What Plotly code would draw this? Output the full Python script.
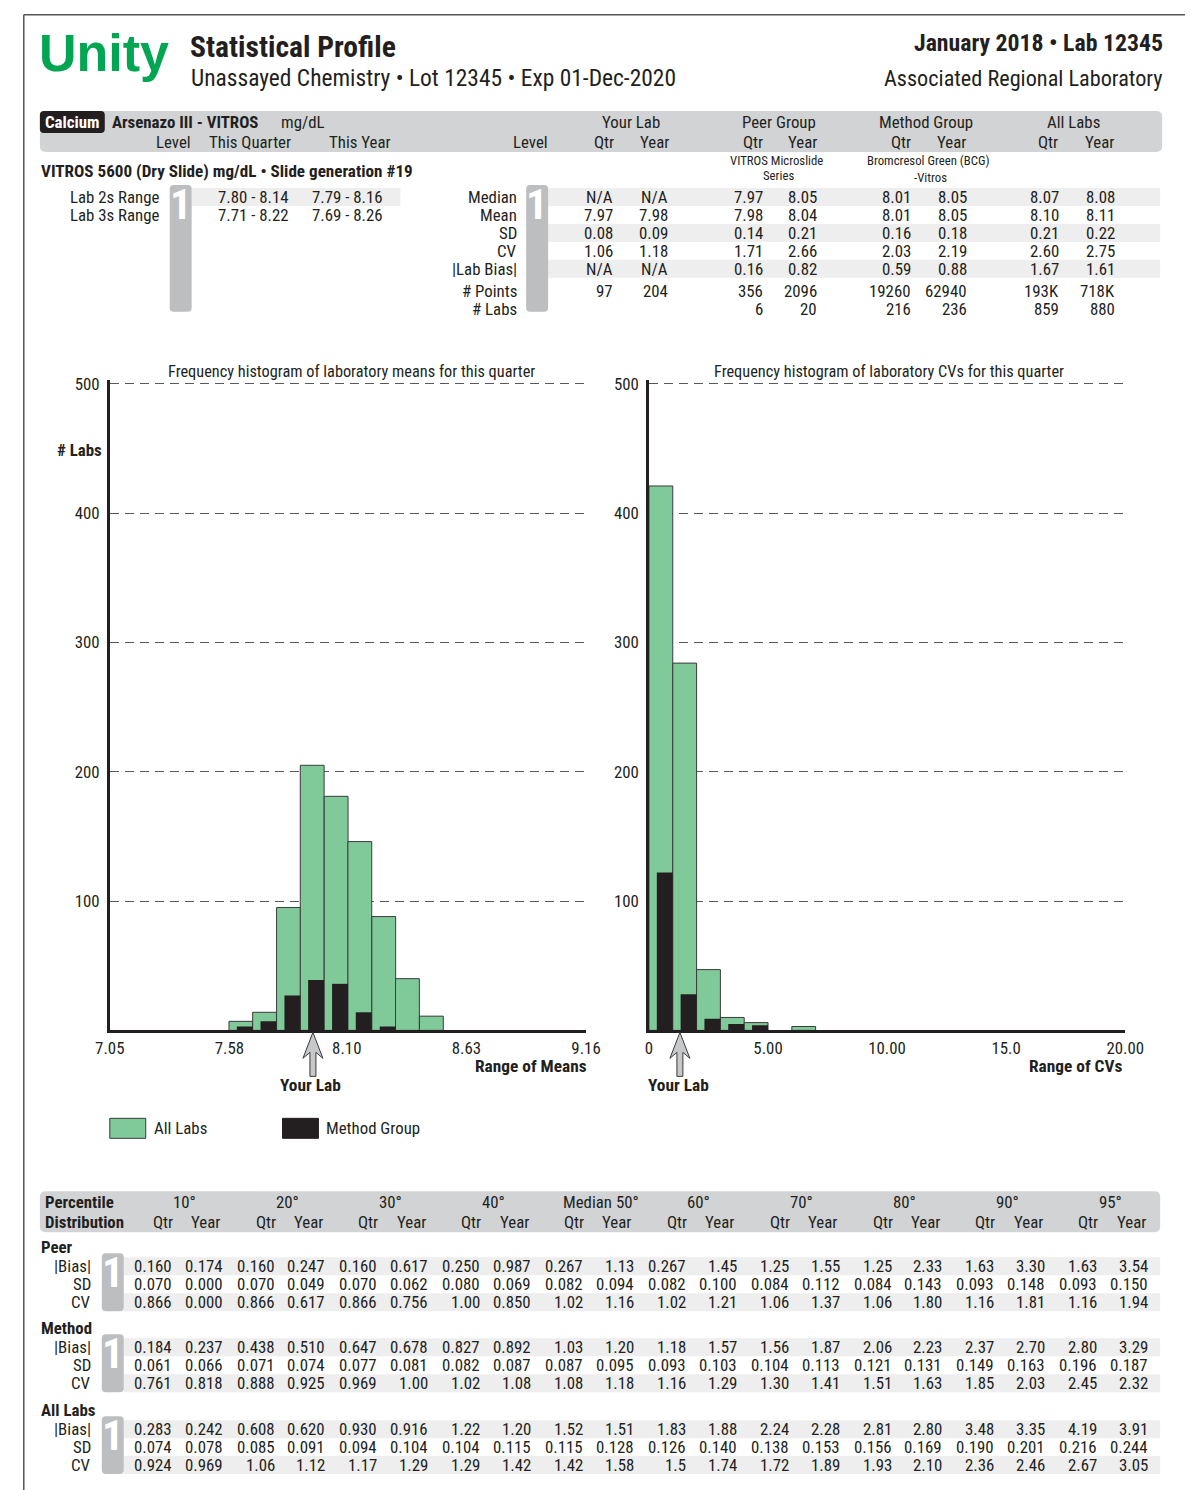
import plotly.graph_objects as go

# Positions below are pixels of the 1193x1490 reference picture.  The photographed page
# comes out slightly shrunk and shifted, so they are mapped back to page pixels first;
# the page body also keeps its default 8px margin.
W, H = 1193, 1490
OFF = 8
SX, OX = 0.973, 13.3
SY, OY = 0.9966, 5.0
FSCALE = 1.02
FONT = "Roboto Condensed, Liberation Sans Narrow, Roboto, sans-serif"
LOGO_FONT = "Liberation Sans, Arial, sans-serif"
INK = "#231f20"
GREEN = "#00a651"
BAR_GREEN = "#80ca9a"
BAND = "#d1d3d4"
ROWBAND = "#eeeeef"
BOX = "#bcbec0"
FS = 16.5

# ---------------- data ----------------
mean_bin_start = [7.578, 7.683, 7.789, 7.894, 8.000, 8.105, 8.211, 8.316, 8.422]
mean_bin_width = 0.1055
mean_all_labs = [7, 14, 95, 205, 181, 146, 88, 40, 11]
mean_method = [3, 7, 27, 39, 36, 14, 3, 0, 0]

cv_bin_start = [0, 1, 2, 3, 4, 6]
cv_bin_width = 1.0
cv_all_labs = [421, 284, 47, 10, 6, 3]
cv_method = [122, 28, 9, 5, 4, 0]

mean_ticks = [7.05, 7.58, 8.10, 8.63, 9.16]
mean_ticktext = ["7.05", "7.58", "8.10", "8.63", "9.16"]
cv_ticks = [0, 5, 10, 15, 20]
cv_ticktext = ["0", "5.00", "10.00", "15.0", "20.00"]
count_ticks = [100, 200, 300, 400, 500]
count_ticktext = ["100", "200", "300", "400", "500"]
your_lab_mean_marker = 7.95
your_lab_cv_marker = 1.30

range_labels = ["Lab 2s Range", "Lab 3s Range"]
range_qtr = ["7.80 - 8.14", "7.71 - 8.22"]
range_year = ["7.79 - 8.16", "7.69 - 8.26"]

stat_labels = ["Median", "Mean", "SD", "CV", "|Lab Bias|", "# Points", "# Labs"]
your_lab_qtr = ["N/A", "7.97", "0.08", "1.06", "N/A", "97", ""]
your_lab_year = ["N/A", "7.98", "0.09", "1.18", "N/A", "204", ""]
peer_qtr = ["7.97", "7.98", "0.14", "1.71", "0.16", "356", "6"]
peer_year = ["8.05", "8.04", "0.21", "2.66", "0.82", "2096", "20"]
method_qtr = ["8.01", "8.01", "0.16", "2.03", "0.59", "19260", "216"]
method_year = ["8.05", "8.05", "0.18", "2.19", "0.88", "62940", "236"]
all_qtr = ["8.07", "8.10", "0.21", "2.60", "1.67", "193K", "859"]
all_year = ["8.08", "8.11", "0.22", "2.75", "1.61", "718K", "880"]

pct_headers = ["10°", "20°", "30°", "40°", "Median 50°", "60°", "70°", "80°", "90°", "95°"]
pct_row_labels = ["|Bias|", "SD", "CV"]
pct_groups = ["Peer", "Method", "All Labs"]
peer_bias = ["0.160", "0.174", "0.160", "0.247", "0.160", "0.617", "0.250", "0.987", "0.267", "1.13",
             "0.267", "1.45", "1.25", "1.55", "1.25", "2.33", "1.63", "3.30", "1.63", "3.54"]
peer_sd = ["0.070", "0.000", "0.070", "0.049", "0.070", "0.062", "0.080", "0.069", "0.082", "0.094",
           "0.082", "0.100", "0.084", "0.112", "0.084", "0.143", "0.093", "0.148", "0.093", "0.150"]
peer_cv = ["0.866", "0.000", "0.866", "0.617", "0.866", "0.756", "1.00", "0.850", "1.02", "1.16",
           "1.02", "1.21", "1.06", "1.37", "1.06", "1.80", "1.16", "1.81", "1.16", "1.94"]
method_bias = ["0.184", "0.237", "0.438", "0.510", "0.647", "0.678", "0.827", "0.892", "1.03", "1.20",
               "1.18", "1.57", "1.56", "1.87", "2.06", "2.23", "2.37", "2.70", "2.80", "3.29"]
method_sd = ["0.061", "0.066", "0.071", "0.074", "0.077", "0.081", "0.082", "0.087", "0.087", "0.095",
             "0.093", "0.103", "0.104", "0.113", "0.121", "0.131", "0.149", "0.163", "0.196", "0.187"]
method_cv = ["0.761", "0.818", "0.888", "0.925", "0.969", "1.00", "1.02", "1.08", "1.08", "1.18",
             "1.16", "1.29", "1.30", "1.41", "1.51", "1.63", "1.85", "2.03", "2.45", "2.32"]
all_bias = ["0.283", "0.242", "0.608", "0.620", "0.930", "0.916", "1.22", "1.20", "1.52", "1.51",
            "1.83", "1.88", "2.24", "2.28", "2.81", "2.80", "3.48", "3.35", "4.19", "3.91"]
all_sd = ["0.074", "0.078", "0.085", "0.091", "0.094", "0.104", "0.104", "0.115", "0.115", "0.128",
          "0.126", "0.140", "0.138", "0.153", "0.156", "0.169", "0.190", "0.201", "0.216", "0.244"]
all_cv = ["0.924", "0.969", "1.06", "1.12", "1.17", "1.29", "1.29", "1.42", "1.42", "1.58",
          "1.5", "1.74", "1.72", "1.89", "1.93", "2.10", "2.36", "2.46", "2.67", "3.05"]

# ---------------- helpers (reference pixel -> paper) ----------------
def X(px):
    return ((px - OX) / SX - OFF) / W


def Y(py):
    return 1 - ((py - OY) / SY - OFF) / H


annotations = []
shapes = []


def text(t, x, y, size=FS, anchor="left", bold=False, color=INK, family=FONT):
    annotations.append(dict(
        text=("<b>%s</b>" % t) if bold else t, x=X(x), y=Y(y), xref="paper", yref="paper",
        xanchor=anchor, yanchor="middle", showarrow=False,
        font=dict(family=family, size=round(size * FSCALE, 2), color=color), borderpad=0))


def rrect(x0, y0, x1, y1, r, fill, layer="below"):
    def P(x, y):
        return "%.5f,%.5f" % (X(x), Y(y))
    path = ("M %s L %s Q %s %s L %s Q %s %s L %s Q %s %s L %s Q %s %s Z" % (
        P(x0 + r, y0), P(x1 - r, y0), P(x1, y0), P(x1, y0 + r), P(x1, y1 - r), P(x1, y1),
        P(x1 - r, y1), P(x0 + r, y1), P(x0, y1), P(x0, y1 - r), P(x0, y0 + r), P(x0, y0),
        P(x0 + r, y0)))
    shapes.append(dict(type="path", path=path, xref="paper", yref="paper", fillcolor=fill,
                       line=dict(color=fill, width=0), layer=layer))


def rect(x0, y0, x1, y1, fill, line_color=None, line_width=0, layer="below"):
    shapes.append(dict(type="rect", x0=X(x0), x1=X(x1), y0=Y(y1), y1=Y(y0), xref="paper",
                       yref="paper", fillcolor=fill,
                       line=dict(color=line_color or fill, width=line_width), layer=layer))


def level_box(x0, y0, x1, y1, size=42):
    rrect(x0, y0, x1, y1, 4, BOX)
    text("1", (x0 + x1) / 2, y0 + 19, size=size, anchor="center", bold=True, color="white")


# ---------------- page frame ----------------
fx = max(X(9), 0.8 / W)
fy = min(Y(10), 1 - 0.8 / H)
shapes.append(dict(type="line", x0=fx, x1=X(1200), y0=fy, y1=fy, xref="paper", yref="paper",
                   line=dict(color="#555555", width=1.5)))
shapes.append(dict(type="line", x0=fx, x1=fx, y0=fy, y1=Y(1500), xref="paper", yref="paper",
                   line=dict(color="#555555", width=1.5)))

# ---------------- header ----------------
text("Unity", 36, 52, size=51, bold=True, color=GREEN, family=LOGO_FONT)
text("Statistical Profile", 187, 46, size=29, bold=True)
text("Unassayed Chemistry • Lot 12345 • Exp 01-Dec-2020", 188, 77, size=23)
text("January 2018 • Lab 12345", 1164, 42, size=23.3, anchor="right", bold=True)
text("Associated Regional Laboratory", 1164, 77, size=21.8, anchor="right")

# ---------------- top statistics table ----------------
rrect(38, 110, 1162, 151, 6, BAND)
rrect(38, 110, 103, 132, 4, INK)
text("Calcium", 70.5, 121, anchor="center", bold=True, color="white")
text("Arsenazo III - VITROS", 109, 121, bold=True)
text("mg/dL", 278, 121)
for t, x in [("Your Lab", 630), ("Peer Group", 778), ("Method Group", 925), ("All Labs", 1073)]:
    text(t, x, 121, anchor="center")
text("Level", 190, 141, anchor="right")
text("This Quarter", 248, 141, anchor="center")
text("This Year", 359, 141, anchor="center")
text("Level", 529, 141, anchor="center")
for q, yv in [(603, 654), (752, 802), (900, 951), (1048, 1099)]:
    text("Qtr", q, 141, anchor="center")
    text("Year", yv, 141, anchor="center")

text("VITROS 5600 (Dry Slide) mg/dL • Slide generation #19", 38, 170, size=16.8, bold=True)
text("VITROS Microslide", 776, 160, size=12.5, anchor="center")
text("Series", 778, 175, size=12.5, anchor="center")
text("Bromcresol Green (BCG)", 928, 160, size=12.5, anchor="center")
text("-Vitros", 930, 177, size=12.5, anchor="center")

# left block (lab ranges)
rect(190, 187, 399, 205, ROWBAND)
level_box(168, 184, 190, 311)
for i, lab in enumerate(range_labels):
    yy = 196 + 18 * i
    text(lab, 159, yy, anchor="right")
    text(range_qtr[i], 252, yy, anchor="center")
    text(range_year[i], 346, yy, anchor="center")

# right block (summary statistics)
stat_rows_y = [196, 214, 232, 250, 268, 290, 308]
for by in (187, 223, 259):
    rect(547, by, 1160, by + 18, ROWBAND)
level_box(525, 184, 547, 311)
stat_cols = [your_lab_qtr, your_lab_year, peer_qtr, peer_year, method_qtr, method_year, all_qtr, all_year]
stat_col_right = [613, 668, 763, 817, 911, 968, 1060, 1116]
for i, lab in enumerate(stat_labels):
    text(lab, 517, stat_rows_y[i], anchor="right")
    for col, xr in zip(stat_cols, stat_col_right):
        if col[i]:
            text(col[i], xr, stat_rows_y[i], anchor="right")

# ---------------- histograms ----------------
fig = go.Figure()
fig.add_trace(go.Bar(x=mean_bin_start, y=mean_all_labs, width=[mean_bin_width] * len(mean_bin_start),
                     offset=0, marker=dict(color=BAR_GREEN, line=dict(color="#3a3a3a", width=1)),
                     xaxis="x", yaxis="y", name="All Labs"))
fig.add_trace(go.Bar(x=mean_bin_start, y=mean_method, width=[mean_bin_width * 0.67] * len(mean_bin_start),
                     offset=mean_bin_width * 0.33, marker=dict(color=INK, line=dict(width=0)),
                     xaxis="x", yaxis="y", name="Method Group"))
fig.add_trace(go.Bar(x=cv_bin_start, y=cv_all_labs, width=[cv_bin_width] * len(cv_bin_start),
                     offset=0, marker=dict(color=BAR_GREEN, line=dict(color="#3a3a3a", width=1)),
                     xaxis="x2", yaxis="y2", name="All Labs"))
fig.add_trace(go.Bar(x=cv_bin_start, y=cv_method, width=[cv_bin_width * 0.67] * len(cv_bin_start),
                     offset=cv_bin_width * 0.33, marker=dict(color=INK, line=dict(width=0)),
                     xaxis="x2", yaxis="y2", name="Method Group"))

L_X0, L_X1, R_X0, R_X1 = 108, 585, 648, 1125
P_Y1 = 1030
PX_PER_COUNT = (1030 - 383) / 500.0
Y_TOP = 503
P_Y0 = P_Y1 - Y_TOP * PX_PER_COUNT
tickfont = dict(family=FONT, size=round(16.5 * FSCALE, 2), color=INK)


def xax(x0, x1, rng, tv, tt, anchor):
    return dict(domain=[X(x0), X(x1)], range=rng, anchor=anchor, showline=True, linecolor=INK,
                linewidth=2.5, showgrid=False, zeroline=False, tickmode="array", tickvals=tv,
                ticktext=tt, tickfont=tickfont, ticks="", ticklabelstandoff=1, fixedrange=True)


def yax(anchor):
    return dict(domain=[Y(P_Y1), Y(P_Y0)], range=[0, Y_TOP], anchor=anchor, showline=True, linecolor=INK,
                linewidth=2.5, showgrid=True, gridcolor="#58595b", gridwidth=1, griddash="9px,6px",
                zeroline=False, tickmode="array", tickvals=count_ticks, ticktext=count_ticktext,
                tickfont=tickfont, ticks="", ticklabelstandoff=4, fixedrange=True)


text("Frequency histogram of laboratory means for this quarter", 350, 371, size=16, anchor="center")
text("Frequency histogram of laboratory CVs for this quarter", 888, 371, size=16, anchor="center")
text("# Labs", 101, 449, anchor="right", bold=True)
text("Range of Means", 587, 1066, size=17, anchor="right", bold=True)
text("Range of CVs", 1123, 1066, size=17, anchor="right", bold=True)


def your_lab_arrow(xv, ppu, xref, label_x):
    pts = [(0, 1032), (10, 1058), (3, 1052), (3, 1076), (-3, 1076), (-3, 1052), (-10, 1058)]
    path = "M " + " L ".join("%.5f,%.5f" % (xv + px / ppu, Y(py)) for px, py in pts) + " Z"
    shapes.append(dict(type="path", path=path, xref=xref, yref="paper", fillcolor="#c7c8ca",
                       line=dict(color="#3a3a3a", width=1), layer="above"))
    text("Your Lab", label_x, 1085, size=17, anchor="center", bold=True)


your_lab_arrow(your_lab_mean_marker, (L_X1 - L_X0) / (9.16 - 7.05), "x", 309)
your_lab_arrow(your_lab_cv_marker, (R_X1 - R_X0) / 20.0, "x2", 678)

# legend
rect(108, 1118, 144, 1138, BAR_GREEN, "#3a3a3a", 1, layer="above")
text("All Labs", 151, 1128)
rect(281, 1118, 317, 1138, INK, INK, 1, layer="above")
text("Method Group", 324, 1128)

# ---------------- percentile table ----------------
rrect(38, 1191, 1160, 1232, 6, BAND)
text("Percentile", 42, 1202, bold=True)
text("Distribution", 42, 1222, bold=True)
for k, hdr in enumerate(pct_headers):
    cx = 183 + 103 * k + (5 if k == 4 else 0)
    text(hdr, cx, 1202, anchor="center")
    text("Qtr", 161 + 103 * k, 1222, anchor="center")
    text("Year", 204 + 103 * k, 1222, anchor="center")

group_data = [[peer_bias, peer_sd, peer_cv], [method_bias, method_sd, method_cv], [all_bias, all_sd, all_cv]]
group_top = [1247, 1328, 1410]
for g, gname in enumerate(pct_groups):
    gy = group_top[g]
    text(gname, 38, gy, bold=True)
    rect(122, gy + 10, 1160, gy + 28, ROWBAND)
    rect(122, gy + 46, 1160, gy + 64, ROWBAND)
    level_box(100, gy + 6, 122, gy + 64)
    for r, rl in enumerate(pct_row_labels):
        ry = gy + 19 + 18 * r
        text(rl, 90, ry, anchor="right")
        vals = group_data[g][r]
        for k in range(10):
            text(vals[2 * k], 171 + 103 * k, ry, anchor="right")
            text(vals[2 * k + 1], 222 + 103 * k, ry, anchor="right")

fig.update_layout(
    width=W, height=H, margin=dict(l=0, r=0, t=0, b=0), autosize=False,
    paper_bgcolor="white", plot_bgcolor="white", showlegend=False, barmode="overlay",
    xaxis=xax(L_X0, L_X1, [7.05, 9.16], mean_ticks, mean_ticktext, "y"),
    yaxis=yax("x"),
    xaxis2=xax(R_X0, R_X1, [0, 20], cv_ticks, cv_ticktext, "y2"),
    yaxis2=yax("x2"),
    annotations=annotations, shapes=shapes,
    font=dict(family=FONT, color=INK),
)

fig.write_html("out.html", config={"displayModeBar": False, "responsive": False})
